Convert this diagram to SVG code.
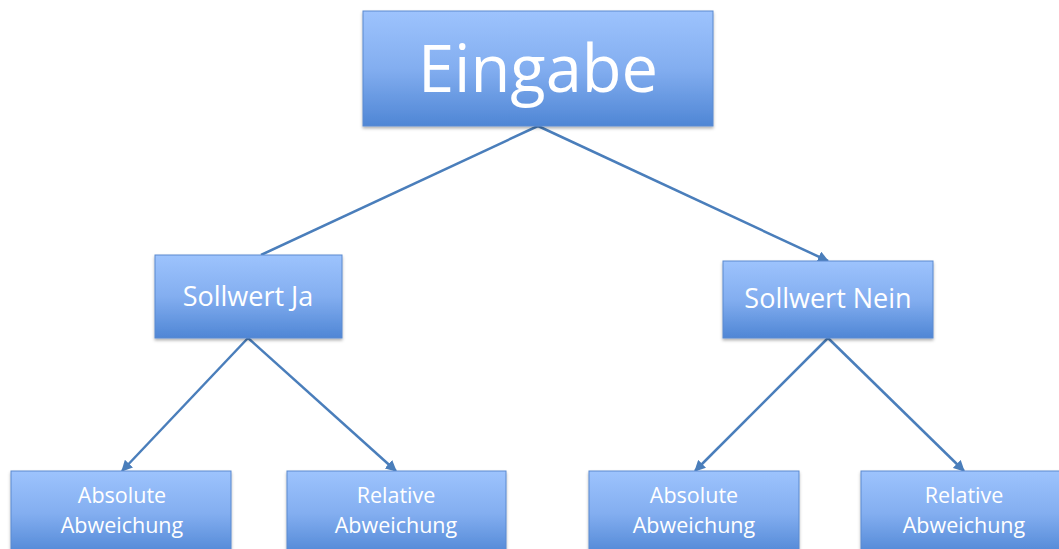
<svg xmlns="http://www.w3.org/2000/svg" width="1059" height="549" viewBox="0 0 1059 549">
  <style>
    .box { fill: url(#boxFill); stroke: #5a8ad0; stroke-width: 1; filter: url(#shadow); }
    .label { fill: #ffffff; font-family: "Open Sans", "Noto Sans", "Liberation Sans", sans-serif; text-anchor: middle; }
    .edge { stroke: #4a7ebb; stroke-width: 2.5; fill: none; }
  </style>
  <defs>
    <linearGradient id="boxFill" x1="0" y1="0" x2="0" y2="1">
      <stop offset="0" stop-color="#9dc3fd"/>
      <stop offset="0.5" stop-color="#83aef0"/>
      <stop offset="1" stop-color="#4f86d5"/>
    </linearGradient>
    <filter id="shadow" x="-10%" y="-10%" width="120%" height="130%">
      <feDropShadow dx="0" dy="2" stdDeviation="1.5" flood-color="#000" flood-opacity="0.3"/>
    </filter>
    <marker id="arrow" viewBox="0 0 10 10" refX="9" refY="5" markerWidth="4.5" markerHeight="4.5" orient="auto" markerUnits="strokeWidth">
      <path d="M0,0 L10,5 L0,10 z" fill="#4a7ebb"/>
    </marker>
  </defs>

  <!-- connectors -->
  <g id="connectors">
    <line class="edge" x1="538" y1="126" x2="261" y2="255"/>
    <line class="edge" x1="538" y1="126" x2="828" y2="261" marker-end="url(#arrow)"/>
    <line class="edge" x1="248" y1="338" x2="122" y2="471" marker-end="url(#arrow)"/>
    <line class="edge" x1="248" y1="338" x2="396" y2="471" marker-end="url(#arrow)"/>
    <line class="edge" x1="828" y1="338" x2="695" y2="471" marker-end="url(#arrow)"/>
    <line class="edge" x1="828" y1="338" x2="964" y2="471" marker-end="url(#arrow)"/>
  </g>

  <g id="eingabe">
    <rect class="box" x="363" y="11" width="350" height="115"/>
    <text class="label" x="538" y="92" font-size="65">Eingabe</text>
  </g>

  <g id="sollwert-ja">
    <rect class="box" x="155" y="255" width="187" height="83"/>
    <text class="label" x="248" y="306" font-size="27">Sollwert Ja</text>
  </g>

  <g id="sollwert-nein">
    <rect class="box" x="723" y="261" width="210" height="77"/>
    <text class="label" x="828" y="308" font-size="27">Sollwert Nein</text>
  </g>

  <g id="ja-absolut">
    <rect class="box" x="11" y="471" width="220" height="85"/>
    <text class="label" x="122" y="503" font-size="21.5">Absolute</text>
    <text class="label" x="122" y="533" font-size="21.5">Abweichung</text>
  </g>

  <g id="ja-relativ">
    <rect class="box" x="287" y="471" width="219" height="85"/>
    <text class="label" x="396" y="503" font-size="21.5">Relative</text>
    <text class="label" x="396" y="533" font-size="21.5">Abweichung</text>
  </g>

  <g id="nein-absolut">
    <rect class="box" x="589" y="471" width="210" height="85"/>
    <text class="label" x="694" y="503" font-size="21.5">Absolute</text>
    <text class="label" x="694" y="533" font-size="21.5">Abweichung</text>
  </g>

  <g id="nein-relativ">
    <rect class="box" x="861" y="471" width="210" height="85"/>
    <text class="label" x="964" y="503" font-size="21.5">Relative</text>
    <text class="label" x="964" y="533" font-size="21.5">Abweichung</text>
  </g>
</svg>
